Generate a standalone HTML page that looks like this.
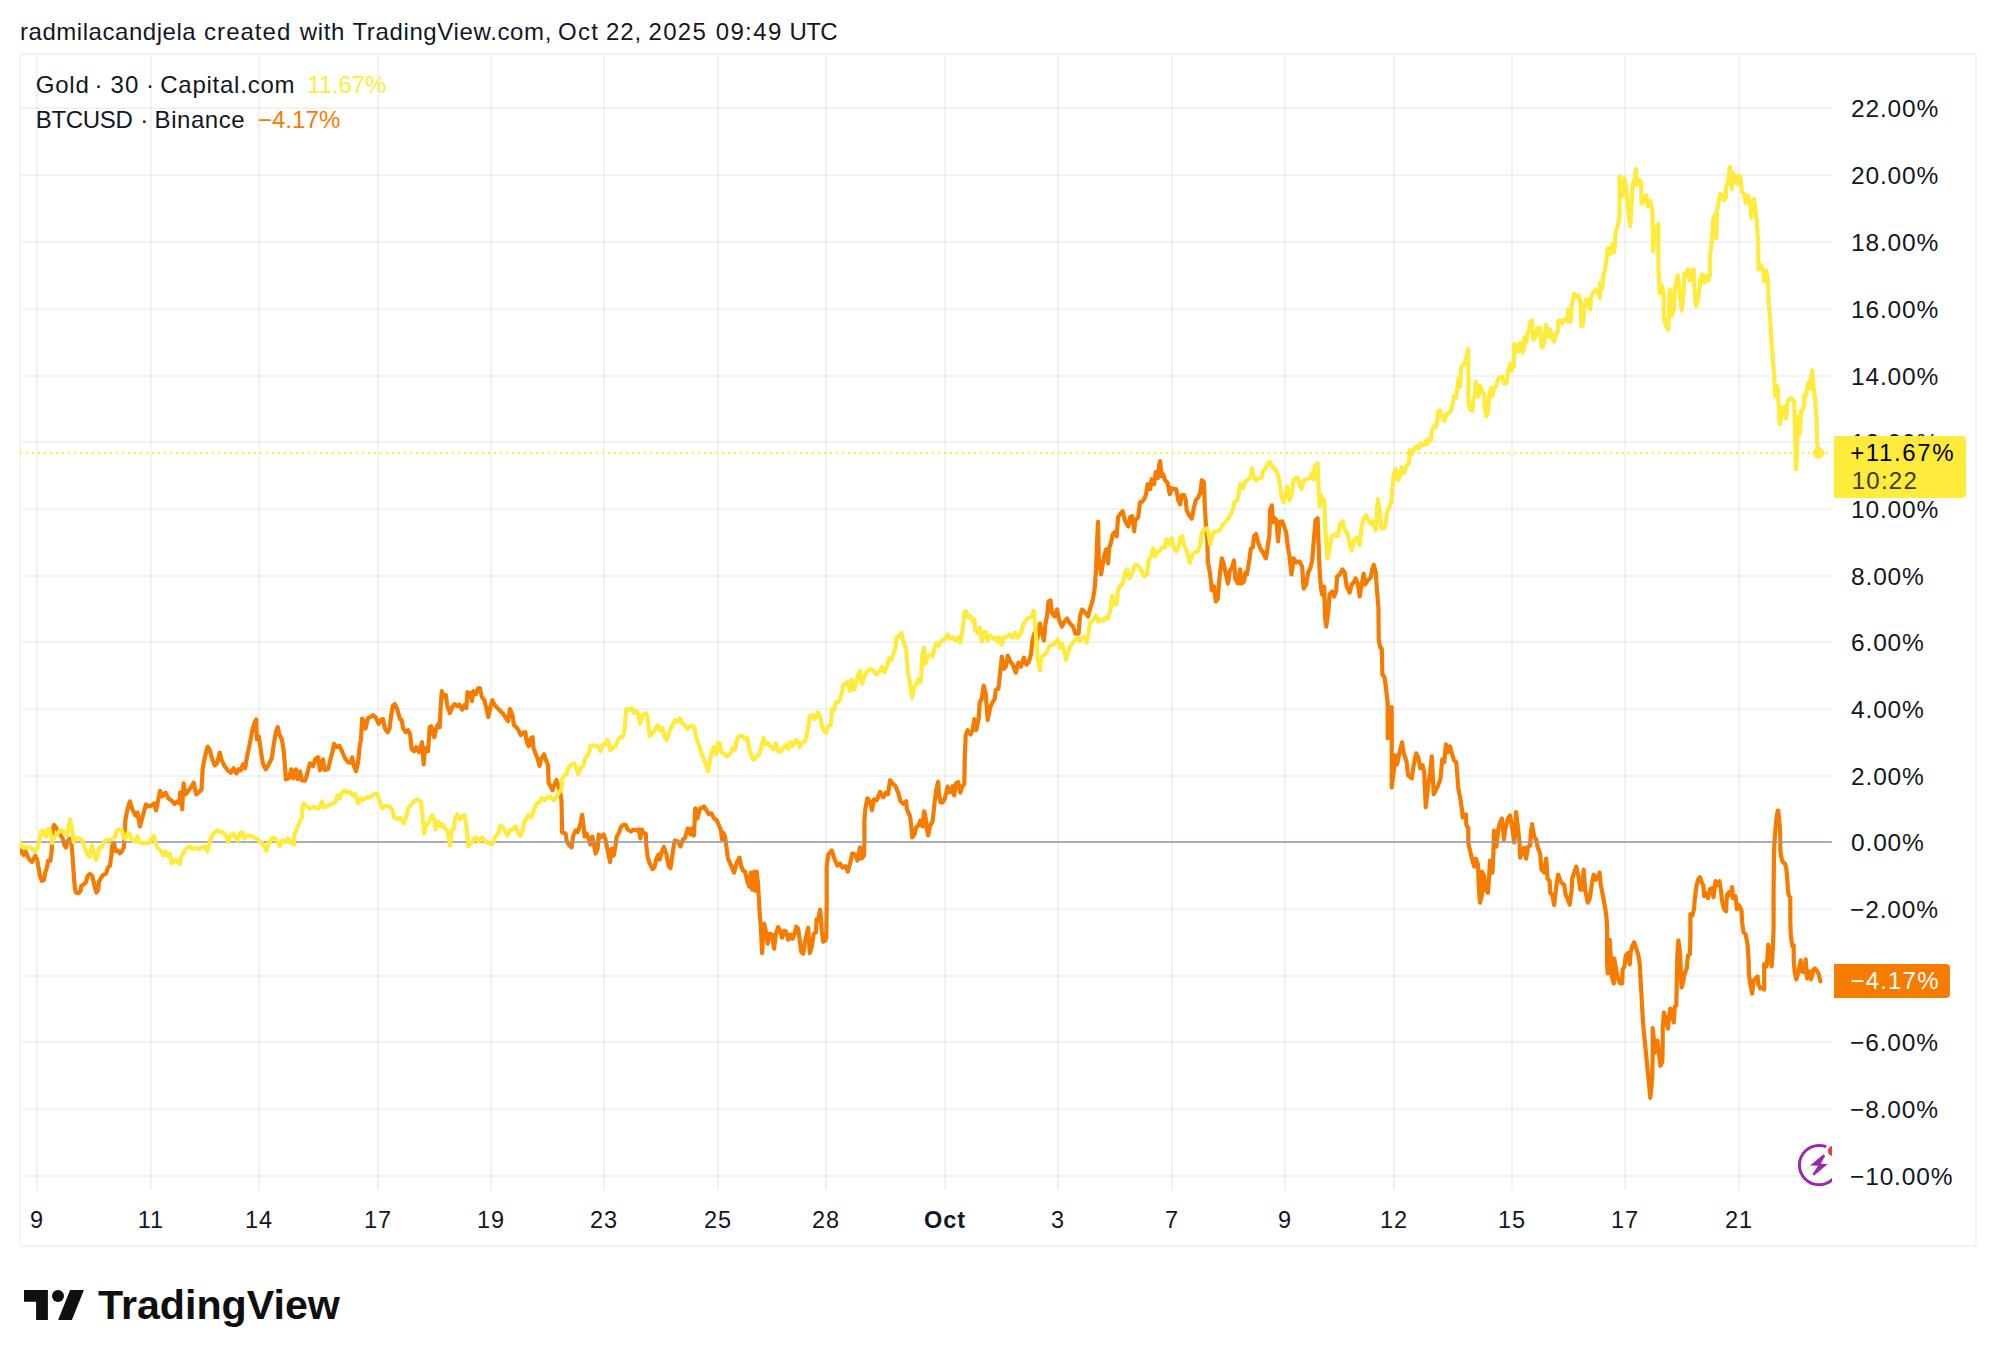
<!DOCTYPE html>
<html><head><meta charset="utf-8">
<style>
html,body{margin:0;padding:0;background:#fff;}
body{width:1996px;height:1366px;position:relative;overflow:hidden;font-family:"Liberation Sans",sans-serif;color:#131722;}
.hdr{position:absolute;left:0;top:17.8px;font-size:24px;line-height:28px;white-space:nowrap;color:#131722;letter-spacing:0.81px;}
.frame{position:absolute;left:19px;top:53px;width:1958px;height:1194px;border:2px solid #f4f4f4;box-sizing:border-box;}
svg.chart{position:absolute;left:0;top:0;}
.leg{position:absolute;left:0;font-size:24px;line-height:28px;white-space:nowrap;}
.yl{position:absolute;font-size:24.5px;line-height:28px;white-space:nowrap;letter-spacing:0.85px;}
.xl{position:absolute;top:1205.6px;width:100px;text-align:center;font-size:23.5px;line-height:28px;letter-spacing:1px;}
.xl.b{font-weight:bold;}
.badge{position:absolute;box-sizing:border-box;border-radius:0 4px 4px 0;}
.logo{position:absolute;left:98px;top:1282.3px;font-size:41.2px;line-height:46px;font-weight:bold;color:#0f0f0f;white-space:nowrap;transform-origin:0 0;}
</style></head><body>
<div class="hdr"><span style="position:absolute;left:20.00px;top:0;letter-spacing:0.54px">radmilacandjela</span><span style="position:absolute;left:204.10px;top:0;letter-spacing:1.02px">created</span><span style="position:absolute;left:299.80px;top:0;letter-spacing:0.59px">with</span><span style="position:absolute;left:352.40px;top:0;letter-spacing:0.64px">TradingView.com,</span><span style="position:absolute;left:557.90px;top:0;letter-spacing:1.32px">Oct</span><span style="position:absolute;left:605.90px;top:0;letter-spacing:0.95px">22,</span><span style="position:absolute;left:648.40px;top:0;letter-spacing:1.39px">2025</span><span style="position:absolute;left:715.70px;top:0;letter-spacing:1.37px">09:49</span><span style="position:absolute;left:789.40px;top:0;letter-spacing:-0.55px">UTC</span></div>
<div class="frame"></div>
<svg class="chart" width="1996" height="1366" viewBox="0 0 1996 1366">
<g fill="rgba(42,46,57,0.06)" stroke="none" shape-rendering="crispEdges"><rect x="36" y="55" width="2" height="1135" /><rect x="150" y="55" width="2" height="1135" /><rect x="258" y="55" width="2" height="1135" /><rect x="377" y="55" width="2" height="1135" /><rect x="490" y="55" width="2" height="1135" /><rect x="603" y="55" width="2" height="1135" /><rect x="717" y="55" width="2" height="1135" /><rect x="825" y="55" width="2" height="1135" /><rect x="944" y="55" width="2" height="1135" /><rect x="1057" y="55" width="2" height="1135" /><rect x="1171" y="55" width="2" height="1135" /><rect x="1284" y="55" width="2" height="1135" /><rect x="1393" y="55" width="2" height="1135" /><rect x="1511" y="55" width="2" height="1135" /><rect x="1624" y="55" width="2" height="1135" /><rect x="1738" y="55" width="2" height="1135" /><rect x="21" y="107" width="1811" height="2" /><rect x="21" y="174" width="1811" height="2" /><rect x="21" y="241" width="1811" height="2" /><rect x="21" y="308" width="1811" height="2" /><rect x="21" y="375" width="1811" height="2" /><rect x="21" y="441" width="1811" height="2" /><rect x="21" y="508" width="1811" height="2" /><rect x="21" y="575" width="1811" height="2" /><rect x="21" y="641" width="1811" height="2" /><rect x="21" y="708" width="1811" height="2" /><rect x="21" y="775" width="1811" height="2" /><rect x="21" y="908" width="1811" height="2" /><rect x="21" y="975" width="1811" height="2" /><rect x="21" y="1041" width="1811" height="2" /><rect x="21" y="1108" width="1811" height="2" /><rect x="21" y="1175" width="1811" height="2" /></g>
<line x1="20" y1="453" x2="1832" y2="453" stroke="#ffeb3b" stroke-width="2" stroke-dasharray="2,4"/>
<clipPath id="cp"><rect x="20" y="55" width="1812" height="1135"/></clipPath>
<g clip-path="url(#cp)">
<path d="M20.2,847.6 L22.1,853.4 L23.5,854.9 L25.7,851.2 L27.6,856.4 L29.8,860.0 L32.0,861.9 L33.8,858.6 L35.3,855.6 L37.1,859.3 L38.6,868.1 L40.0,876.1 L41.8,880.9 L44.0,879.8 L45.1,873.2 L47.3,865.9 L48.1,860.8 L50.3,860.8 L51.4,854.2 L52.1,843.2 L52.8,829.3 L53.9,824.9 L55.8,827.1 L57.6,830.0 L60.5,835.1 L62.7,838.8 L64.5,845.4 L66.0,847.6 L67.5,841.0 L70.0,838.8 L71.5,843.9 L72.6,857.1 L73.7,873.2 L74.8,887.8 L75.9,892.6 L78.8,893.0 L80.6,890.8 L81.4,885.7 L83.9,884.2 L86.1,882.0 L87.6,876.1 L89.8,873.9 L92.0,875.4 L93.5,881.3 L94.9,887.8 L96.4,892.6 L98.2,890.0 L98.9,882.0 L101.1,877.6 L103.3,874.7 L105.9,873.9 L108.1,867.3 L109.9,865.9 L111.4,855.6 L112.1,845.4 L114.0,843.2 L115.4,851.2 L117.6,850.5 L119.8,853.4 L122.0,851.2 L123.8,847.6 L124.6,836.6 L125.3,820.5 L127.1,811.0 L129.0,803.7 L130.0,801.5 L130.4,803.4 L132.8,810.4 L135.4,815.4 L137.4,812.4 L140.0,826.5 L142.4,817.4 L146.0,804.4 L148.4,806.4 L151.5,805.4 L154.1,803.4 L156.1,810.4 L158.5,798.4 L160.1,790.8 L162.1,796.4 L165.5,792.8 L168.5,798.4 L171.5,800.4 L174.5,804.0 L177.5,801.4 L179.5,803.4 L180.1,792.4 L181.5,792.8 L182.1,809.4 L183.6,783.3 L185.6,794.4 L188.6,790.4 L191.6,786.3 L193.6,782.7 L196.2,794.4 L199.6,791.4 L201.6,789.4 L202.6,769.3 L204.6,758.3 L207.6,746.6 L209.6,749.2 L211.6,757.3 L214.6,765.3 L217.1,763.3 L219.7,752.6 L221.7,760.3 L224.7,766.3 L227.7,770.3 L230.7,772.7 L233.7,768.3 L236.3,773.3 L238.7,769.3 L240.7,770.3 L243.1,764.3 L245.1,768.3 L247.1,756.3 L249.7,744.2 L252.4,730.2 L254.4,723.2 L256.2,719.5 L256.8,739.2 L258.8,736.2 L260.8,750.2 L262.8,763.3 L265.8,769.3 L268.8,764.3 L271.8,758.3 L273.8,744.2 L276.4,730.2 L277.8,727.2 L279.2,734.2 L281.8,739.2 L283.9,752.2 L284.9,766.3 L285.9,779.3 L288.9,778.3 L291.3,769.3 L293.3,778.3 L295.9,769.3 L297.9,779.3 L299.9,771.3 L301.9,780.3 L304.9,780.7 L306.9,775.3 L309.9,763.3 L312.9,766.3 L315.3,759.3 L318.0,757.3 L320.0,770.3 L323.0,759.3 L324.6,769.9 L328.0,769.3 L330.0,761.3 L332.6,751.2 L334.0,743.8 L336.6,747.2 L339.4,745.8 L342.0,751.2 L345.0,758.3 L348.0,762.3 L350.7,762.7 L352.1,757.3 L354.1,766.3 L356.1,771.3 L358.1,762.3 L359.5,748.2 L361.1,738.2 L362.1,718.5 L364.1,721.2 L365.5,728.6 L368.1,718.1 L371.1,716.5 L373.1,715.1 L376.1,718.1 L378.7,723.8 L381.1,719.7 L383.1,719.1 L384.8,728.2 L387.6,732.2 L389.6,728.2 L391.2,715.1 L392.8,706.1 L394.8,704.1 L397.2,709.1 L400.0,719.1 L401.7,720.2 L403.1,728.2 L405.7,732.2 L408.1,730.2 L410.1,734.2 L411.7,749.2 L414.1,751.2 L416.1,747.2 L419.1,752.2 L421.1,745.2 L422.1,742.2 L423.7,764.3 L425.1,748.2 L428.1,751.2 L429.7,727.2 L431.2,726.2 L432.6,730.2 L434.2,737.2 L436.2,728.2 L438.2,724.2 L439.8,727.2 L440.6,708.1 L441.8,691.1 L443.8,697.1 L445.8,695.1 L447.2,705.1 L449.8,713.1 L452.2,707.1 L454.6,704.1 L457.2,706.1 L459.2,704.5 L462.2,709.7 L464.3,705.1 L466.3,708.1 L467.5,692.1 L469.9,693.1 L471.9,701.1 L473.3,691.1 L475.9,694.1 L477.9,688.5 L479.9,688.1 L481.9,697.1 L484.3,700.1 L486.3,708.1 L488.3,717.1 L490.3,708.1 L492.3,700.1 L494.7,705.1 L497.4,708.1 L500.4,711.1 L503.4,714.1 L506.0,718.1 L508.0,721.2 L510.0,709.1 L512.4,715.1 L514.0,725.2 L516.4,727.2 L518.4,730.2 L520.8,735.2 L523.4,732.6 L525.4,732.2 L526.8,742.2 L528.8,746.2 L530.9,738.2 L532.5,737.2 L533.5,748.2 L535.5,753.2 L537.5,758.3 L539.5,765.9 L541.5,758.3 L544.1,754.3 L546.1,760.3 L548.1,765.3 L548.5,782.3 L550.5,786.3 L552.5,790.4 L554.5,784.3 L556.5,779.9 L558.5,786.3 L560.5,794.4 L561.5,800.4 L562.1,832.5 L565.6,833.5 L566.6,840.5 L568.6,844.5 L571.6,847.5 L573.0,836.5 L575.6,830.5 L577.6,832.1 L579.0,828.5 L580.6,822.5 L582.2,814.8 L583.6,826.5 L584.6,836.5 L586.6,833.5 L588.6,838.5 L590.2,844.5 L592.2,836.5 L593.6,842.5 L595.6,853.6 L597.7,848.5 L598.7,834.5 L600.7,837.5 L603.7,834.5 L605.7,840.5 L607.7,850.5 L610.1,862.2 L611.7,848.5 L613.7,855.6 L615.7,844.5 L616.7,836.5 L619.1,832.5 L620.7,827.5 L623.1,824.9 L625.7,824.9 L627.7,829.5 L630.8,831.5 L633.8,829.5 L636.8,830.5 L638.8,829.5 L640.4,838.5 L641.8,829.5 L643.2,832.9 L645.8,833.5 L646.4,846.5 L647.8,857.6 L649.8,863.6 L652.4,869.0 L654.4,867.6 L656.4,858.6 L658.4,854.6 L659.8,859.6 L661.8,851.5 L663.9,846.9 L666.5,854.6 L668.5,865.6 L670.5,868.2 L672.5,854.6 L673.9,844.5 L674.9,840.5 L677.9,841.5 L680.5,846.5 L682.9,839.5 L684.9,838.1 L687.9,828.5 L690.5,834.5 L691.9,828.5 L693.9,835.5 L695.3,808.4 L697.4,818.4 L700.0,808.4 L702.0,808.0 L704.0,806.4 L706.6,810.4 L709.0,814.4 L711.4,813.4 L714.0,818.4 L716.6,820.1 L719.0,825.5 L721.0,830.5 L722.0,839.5 L723.4,832.9 L725.0,836.5 L726.6,848.5 L728.0,858.6 L731.1,865.6 L734.1,872.6 L736.7,862.6 L739.5,857.6 L741.1,865.6 L743.1,870.6 L745.1,871.6 L747.1,880.6 L749.1,886.6 L750.7,872.6 L752.3,889.7 L754.1,871.6 L755.1,890.7 L756.7,871.6 L758.1,884.6 L758.5,892.6 L759.7,912.6 L761.1,932.7 L762.1,953.2 L763.1,936.7 L764.1,923.7 L765.7,930.7 L767.7,943.7 L769.7,933.7 L772.1,934.7 L774.1,948.7 L775.7,934.7 L778.1,927.1 L780.1,930.7 L782.1,937.7 L784.1,930.7 L786.1,931.7 L788.1,939.7 L790.6,934.7 L792.6,938.7 L794.6,933.7 L796.2,926.7 L798.2,928.7 L799.8,940.7 L801.2,951.8 L803.2,953.8 L805.2,940.7 L808.2,927.7 L809.8,953.2 L811.8,946.7 L813.8,933.7 L815.8,932.7 L816.6,919.1 L817.8,920.7 L820.2,909.6 L821.8,930.7 L823.2,941.7 L825.3,940.7 L826.3,936.7 L826.7,900.6 L826.7,866.5 L828.3,854.5 L831.9,850.5 L834.3,858.5 L837.3,865.5 L839.9,863.5 L842.3,867.5 L845.3,866.1 L847.9,871.5 L850.3,862.5 L852.3,853.5 L855.3,854.5 L857.4,860.5 L860.0,847.4 L861.4,858.5 L864.0,855.5 L864.4,840.4 L864.4,820.4 L865.4,808.3 L867.4,798.3 L870.0,801.3 L872.0,810.3 L874.0,799.3 L876.8,800.3 L880.0,791.9 L883.4,797.3 L886.0,792.7 L888.0,794.3 L890.1,780.2 L892.5,783.2 L895.5,786.3 L898.1,792.3 L900.5,801.3 L903.5,803.9 L906.1,801.3 L906.9,809.3 L910.1,816.3 L911.5,828.4 L912.1,837.4 L914.5,834.4 L916.1,827.4 L918.5,825.4 L920.5,820.4 L922.5,826.4 L924.2,811.3 L925.6,817.4 L926.6,828.4 L928.2,835.4 L930.2,825.4 L932.6,821.4 L934.6,802.3 L936.2,790.3 L938.2,781.8 L939.0,794.3 L940.6,802.3 L942.6,802.3 L945.0,798.3 L947.6,786.7 L950.2,792.3 L952.6,786.3 L954.2,795.3 L956.2,783.2 L958.3,782.2 L960.3,792.7 L962.3,786.3 L964.3,784.3 L964.7,760.2 L965.7,735.1 L967.7,730.1 L970.7,734.5 L972.7,730.1 L974.3,719.0 L976.3,730.1 L978.7,718.0 L979.7,702.8 L981.7,698.8 L983.7,685.7 L985.7,693.8 L987.7,720.0 L990.4,706.8 L992.8,701.8 L994.8,698.8 L995.8,689.7 L998.4,688.7 L1000.4,670.7 L1001.8,656.6 L1003.8,668.7 L1005.8,666.7 L1007.8,655.6 L1010.4,661.7 L1012.8,664.7 L1015.8,672.7 L1018.4,662.7 L1020.8,666.7 L1023.9,657.7 L1026.5,664.7 L1028.9,661.7 L1030.9,654.6 L1032.5,640.6 L1034.5,632.6 L1036.9,640.6 L1038.5,632.6 L1039.9,623.6 L1041.9,632.6 L1043.9,640.6 L1045.3,624.6 L1047.3,614.5 L1048.5,601.5 L1050.5,600.5 L1051.9,612.5 L1054.5,616.5 L1057.0,609.5 L1059.0,619.5 L1062.0,626.6 L1064.6,621.5 L1067.0,618.5 L1070.0,623.6 L1073.0,626.6 L1075.4,633.6 L1078.6,633.6 L1080.0,616.5 L1082.0,609.5 L1085.0,612.5 L1088.0,616.5 L1090.7,606.5 L1092.7,600.5 L1094.7,588.4 L1096.1,568.4 L1097.1,540.3 L1098.1,521.8 L1098.7,558.4 L1101.1,574.4 L1102.7,564.4 L1104.7,554.3 L1106.1,549.3 L1108.1,563.4 L1109.1,548.3 L1111.1,542.3 L1112.7,534.3 L1114.7,532.3 L1116.7,536.3 L1118.1,517.2 L1120.7,513.2 L1122.7,511.2 L1124.8,520.2 L1128.2,526.3 L1130.2,517.2 L1132.2,516.2 L1134.2,531.3 L1135.2,520.2 L1138.2,517.2 L1140.0,502.2 L1141.7,502.2 L1144.1,499.2 L1146.1,494.2 L1147.7,484.2 L1150.1,489.2 L1151.7,479.2 L1154.1,484.2 L1155.7,472.2 L1157.7,478.2 L1159.1,465.1 L1160.1,461.1 L1161.7,476.2 L1163.1,474.2 L1165.1,480.2 L1167.7,483.2 L1169.7,494.2 L1171.8,488.2 L1174.2,489.2 L1176.2,489.2 L1178.2,500.2 L1180.2,504.3 L1181.8,495.2 L1184.2,495.2 L1185.8,500.2 L1186.6,510.3 L1189.2,515.3 L1191.8,518.7 L1193.8,508.3 L1195.8,500.2 L1198.2,497.2 L1200.2,493.2 L1201.8,480.2 L1203.9,482.2 L1204.7,504.3 L1205.9,524.3 L1207.3,540.4 L1207.9,562.4 L1209.9,572.5 L1211.9,590.5 L1213.9,586.5 L1215.9,601.5 L1217.9,598.5 L1218.7,586.5 L1220.3,570.5 L1221.9,558.4 L1223.9,564.4 L1225.9,574.5 L1227.9,583.5 L1229.9,570.5 L1232.3,567.4 L1233.9,560.4 L1235.3,578.5 L1238.0,583.5 L1240.0,569.4 L1241.4,583.5 L1244.0,581.5 L1245.4,572.5 L1246.8,574.5 L1249.4,560.4 L1250.8,548.4 L1252.8,547.4 L1254.0,536.3 L1256.0,533.9 L1258.0,542.4 L1260.4,548.4 L1262.8,552.4 L1264.8,556.4 L1266.0,558.4 L1268.0,544.4 L1269.4,536.3 L1270.1,510.3 L1271.9,505.3 L1272.9,522.3 L1274.9,518.3 L1276.5,520.3 L1278.1,541.4 L1279.5,522.3 L1282.1,521.3 L1284.1,526.3 L1286.1,532.3 L1288.1,548.4 L1289.5,556.4 L1291.5,574.5 L1293.5,558.4 L1296.5,562.4 L1299.5,561.4 L1302.1,566.4 L1303.6,588.5 L1306.2,584.5 L1308.2,572.5 L1310.2,568.4 L1312.2,560.4 L1313.6,542.4 L1315.6,520.3 L1317.6,518.3 L1318.6,544.4 L1319.6,570.5 L1321.0,588.5 L1322.2,594.5 L1324.2,586.5 L1325.0,616.6 L1326.2,626.6 L1328.2,612.6 L1329.6,594.5 L1332.2,591.5 L1334.2,596.5 L1336.2,590.5 L1337.1,576.5 L1339.7,574.5 L1342.3,569.4 L1344.7,572.5 L1346.7,586.5 L1349.7,592.5 L1351.7,584.5 L1353.7,582.5 L1355.7,578.5 L1357.7,583.5 L1359.7,596.5 L1361.7,584.5 L1363.7,573.5 L1365.1,584.5 L1367.7,580.5 L1370.8,577.5 L1372.4,568.4 L1373.8,564.8 L1375.8,572.5 L1376.8,588.5 L1378.4,606.6 L1378.8,640.7 L1380.4,647.7 L1381.8,648.7 L1382.4,674.8 L1384.4,676.8 L1385.8,686.8 L1387.7,703.1 L1387.7,738.2 L1389.7,720.2 L1391.7,707.1 L1391.7,764.3 L1391.7,787.4 L1393.7,772.3 L1395.1,755.3 L1397.1,764.3 L1399.1,754.3 L1402.1,742.2 L1403.7,753.3 L1406.5,761.3 L1408.1,775.3 L1411.8,778.4 L1413.8,764.3 L1416.2,753.3 L1418.6,758.3 L1420.2,768.3 L1422.6,765.3 L1424.2,772.3 L1425.8,807.4 L1427.8,788.4 L1430.2,772.3 L1431.8,756.3 L1433.8,794.4 L1435.8,790.4 L1438.2,785.4 L1440.6,778.4 L1442.2,759.3 L1444.3,762.3 L1445.9,744.3 L1447.9,752.3 L1449.9,746.3 L1451.9,753.3 L1453.9,760.3 L1456.3,762.3 L1458.3,788.4 L1460.3,798.4 L1462.3,812.5 L1462.7,817.5 L1465.9,814.5 L1466.3,824.5 L1468.3,828.5 L1468.3,842.5 L1470.7,853.6 L1472.7,861.6 L1474.3,866.6 L1475.9,858.6 L1478.0,864.6 L1478.8,886.7 L1480.0,902.7 L1482.0,894.7 L1482.0,871.6 L1484.0,875.6 L1486.0,890.7 L1488.0,892.7 L1489.4,872.6 L1490.0,860.6 L1492.4,872.6 L1493.4,853.6 L1494.0,830.5 L1496.4,846.6 L1498.4,828.5 L1500.4,821.5 L1502.0,818.5 L1504.0,839.5 L1505.4,828.5 L1508.0,818.5 L1510.1,815.5 L1512.1,826.5 L1514.1,842.5 L1515.5,826.5 L1516.1,812.1 L1518.1,829.5 L1519.5,842.5 L1520.1,857.6 L1522.1,852.6 L1524.1,847.6 L1526.1,858.6 L1528.1,846.6 L1530.1,845.6 L1530.9,832.5 L1532.1,824.1 L1534.1,836.5 L1536.1,839.5 L1537.5,846.6 L1540.1,853.6 L1541.5,869.6 L1544.2,872.6 L1546.2,858.6 L1547.6,878.7 L1549.6,880.7 L1550.2,892.7 L1552.2,894.7 L1554.2,905.1 L1556.2,886.7 L1558.2,874.6 L1560.2,880.7 L1562.2,883.7 L1564.2,884.7 L1565.6,894.7 L1567.6,898.7 L1569.6,904.7 L1571.6,890.7 L1572.2,878.7 L1574.2,872.6 L1576.2,866.6 L1578.3,875.6 L1580.3,889.7 L1582.3,889.7 L1583.7,869.6 L1585.1,888.7 L1587.7,902.7 L1589.7,898.7 L1591.7,884.7 L1593.7,874.6 L1595.7,879.7 L1597.7,877.7 L1599.7,872.6 L1600.7,884.7 L1602.7,894.7 L1604.3,903.7 L1605.7,910.8 L1607.1,924.3 L1607.1,944.3 L1607.1,962.4 L1607.7,973.4 L1609.1,958.4 L1609.7,939.9 L1611.2,962.4 L1611.8,976.4 L1613.8,983.4 L1614.2,958.4 L1616.2,970.4 L1618.6,980.4 L1620.2,983.4 L1622.2,983.4 L1622.6,969.4 L1624.6,966.4 L1625.8,955.3 L1627.8,953.3 L1629.8,964.4 L1630.6,952.3 L1632.2,946.3 L1634.2,942.3 L1636.2,948.3 L1638.2,954.3 L1639.8,964.4 L1640.6,980.4 L1641.8,1000.5 L1642.6,1016.5 L1643.9,1032.6 L1645.3,1046.6 L1646.7,1060.7 L1647.9,1072.7 L1649.3,1086.7 L1650.3,1097.8 L1651.3,1088.7 L1652.3,1074.7 L1652.7,1052.6 L1652.7,1028.2 L1653.3,1033.6 L1654.7,1052.6 L1655.9,1046.6 L1657.3,1040.6 L1658.7,1050.6 L1660.3,1065.7 L1662.3,1061.7 L1662.7,1044.6 L1662.7,1028.6 L1663.9,1012.5 L1665.9,1020.5 L1667.9,1028.6 L1669.3,1014.5 L1670.3,1008.5 L1672.3,1015.5 L1673.9,1022.5 L1674.7,1006.5 L1676.3,1005.5 L1676.8,980.4 L1677.4,954.3 L1678.4,940.3 L1680.0,952.3 L1680.8,970.4 L1681.6,987.4 L1683.4,980.4 L1684.8,973.4 L1686.8,968.4 L1688.0,955.3 L1690.0,954.3 L1690.4,934.3 L1690.4,914.2 L1692.4,915.2 L1694.0,909.2 L1694.8,899.2 L1696.4,886.1 L1698.4,879.1 L1700.0,877.1 L1702.0,883.1 L1703.4,885.1 L1704.0,896.2 L1706.0,893.2 L1708.0,898.2 L1710.1,889.1 L1712.1,888.1 L1713.5,897.2 L1715.5,881.1 L1717.5,885.1 L1719.5,881.1 L1720.9,890.2 L1722.1,901.2 L1724.1,909.2 L1726.1,911.2 L1726.9,895.2 L1728.9,892.2 L1730.5,895.2 L1732.1,887.1 L1732.9,898.2 L1735.5,896.2 L1736.9,909.2 L1738.9,905.2 L1741.5,910.2 L1742.1,922.2 L1743.6,932.3 L1745.6,934.3 L1747.6,944.3 L1748.6,960.4 L1749.0,974.4 L1750.6,986.4 L1752.2,993.5 L1753.6,980.4 L1755.6,978.4 L1757.6,976.4 L1758.2,984.4 L1760.2,988.4 L1762.2,987.4 L1764.2,989.4 L1764.2,972.4 L1764.2,964.0 L1766.6,966.4 L1767.6,956.3 L1768.2,944.7 L1770.2,954.3 L1771.6,966.4 L1772.6,952.3 L1773.6,928.3 L1773.6,890.2 L1774.0,852.2 L1774.8,837.6 L1776.2,820.7 L1777.7,810.5 L1778.2,810.5 L1779.9,826.6 L1780.3,841.2 L1780.3,850.0 L1781.0,855.9 L1782.5,861.7 L1784.7,863.2 L1786.1,866.9 L1786.9,874.2 L1787.6,883.7 L1788.0,890.0 L1788.7,895.2 L1790.3,897.2 L1790.3,920.2 L1790.7,934.3 L1792.3,946.3 L1793.7,945.3 L1793.7,960.4 L1794.7,972.4 L1796.3,979.4 L1798.3,972.4 L1799.7,965.4 L1800.7,960.4 L1801.7,971.4 L1804.3,972.4 L1805.7,959.4 L1807.1,978.4 L1809.7,971.4 L1811.2,979.4 L1813.2,970.4 L1814.8,968.4 L1817.2,971.4 L1818.8,974.4 L1820.4,981.4" fill="none" stroke="#f57c00" stroke-width="4.2" stroke-linejoin="round" stroke-linecap="round"/>
<line x1="20" y1="842.00" x2="1832" y2="842.00" stroke="#9598a8" stroke-opacity="0.8" stroke-width="2" shape-rendering="crispEdges"/>
<path d="M20.2,842.1 L22.1,846.9 L24.6,847.6 L27.6,846.9 L30.5,848.0 L33.4,849.8 L35.3,851.2 L37.1,848.3 L39.3,841.0 L40.7,832.2 L42.2,830.4 L44.4,834.4 L46.2,836.6 L47.3,830.0 L49.5,828.9 L51.0,835.1 L52.1,843.2 L53.9,838.1 L56.9,834.4 L59.0,831.5 L61.2,830.4 L64.2,831.5 L67.1,835.1 L68.6,827.8 L70.0,819.4 L71.9,827.8 L73.7,841.7 L75.9,838.1 L78.8,838.4 L82.1,839.9 L83.9,845.4 L86.5,852.7 L89.4,857.1 L90.9,851.2 L92.0,845.4 L94.2,854.2 L96.0,860.0 L97.8,854.9 L98.9,848.3 L102.2,846.9 L104.4,841.7 L106.6,839.9 L111.0,839.5 L114.7,837.3 L116.9,830.7 L119.8,829.3 L122.0,830.7 L123.5,836.6 L125.3,838.8 L127.9,832.9 L130.0,834.4 L130.4,837.5 L132.8,840.5 L135.4,841.5 L137.4,836.1 L140.0,842.5 L142.8,843.5 L145.4,842.5 L148.4,843.5 L151.5,838.5 L154.1,836.1 L155.5,843.5 L158.1,848.5 L160.5,850.5 L163.5,855.6 L165.5,851.5 L167.5,855.6 L170.1,853.6 L171.5,863.6 L174.5,860.6 L176.5,859.6 L179.5,864.2 L181.5,856.6 L183.6,852.5 L186.6,848.5 L189.6,846.5 L192.6,848.9 L195.6,847.5 L198.6,849.5 L201.6,847.5 L204.6,846.5 L207.6,851.5 L209.6,842.5 L211.6,836.1 L214.6,832.5 L217.7,830.1 L220.7,832.1 L223.7,832.9 L226.3,836.5 L228.3,842.1 L230.3,835.5 L233.1,833.5 L235.7,837.5 L237.7,840.5 L239.7,833.5 L242.3,832.1 L244.3,838.5 L247.1,835.5 L249.7,835.5 L252.8,836.5 L255.8,838.5 L258.8,840.5 L261.8,842.9 L264.4,846.5 L266.4,850.5 L268.8,842.9 L271.8,838.1 L274.8,838.1 L277.2,841.5 L279.8,846.1 L282.4,840.5 L284.9,842.1 L287.9,838.5 L289.9,842.5 L291.9,841.5 L293.9,844.5 L294.5,834.5 L296.9,828.5 L299.9,821.5 L301.9,817.4 L302.5,806.4 L303.9,803.4 L306.5,806.4 L309.9,808.8 L312.9,806.8 L315.9,808.0 L319.0,808.4 L322.0,801.4 L324.0,807.4 L327.0,806.4 L330.0,804.4 L333.0,803.4 L335.4,802.4 L337.0,795.4 L340.0,798.4 L342.0,792.4 L344.6,790.4 L347.0,792.8 L350.1,792.0 L352.7,795.4 L355.1,794.0 L358.1,803.4 L361.1,798.4 L364.1,799.4 L367.1,796.8 L370.1,797.4 L373.1,794.4 L377.1,794.0 L379.1,799.4 L382.1,808.4 L385.2,806.0 L389.2,806.4 L392.2,809.4 L394.2,817.4 L398.2,819.4 L400.0,818.0 L403.7,823.5 L406.1,817.4 L408.1,808.4 L411.1,804.4 L414.1,801.4 L418.1,799.4 L421.1,802.4 L422.5,814.4 L424.1,833.5 L425.7,825.5 L428.1,823.5 L430.2,819.4 L432.2,815.4 L434.2,819.4 L435.8,829.5 L437.8,821.5 L440.2,826.5 L442.2,824.1 L444.2,827.5 L447.2,830.5 L449.2,840.5 L450.0,845.5 L451.8,830.5 L453.8,828.5 L455.2,818.4 L457.2,814.4 L459.8,819.4 L462.2,816.4 L464.3,814.8 L465.9,822.5 L467.3,834.5 L468.3,846.5 L471.3,842.5 L474.3,838.5 L476.3,837.5 L478.7,841.5 L482.3,837.5 L485.3,841.5 L488.3,842.9 L491.3,844.5 L493.9,841.5 L495.3,836.5 L498.0,834.5 L500.0,826.1 L502.4,826.5 L504.8,830.5 L507.4,835.5 L510.0,830.5 L512.4,829.5 L515.4,826.5 L518.0,832.5 L520.4,836.1 L522.8,830.5 L524.0,822.5 L526.4,819.4 L528.4,814.8 L531.5,817.4 L534.1,809.4 L536.5,803.4 L539.5,802.4 L542.1,798.0 L544.9,800.4 L547.5,797.4 L550.5,796.8 L553.5,800.4 L556.5,796.4 L559.5,791.4 L561.5,789.4 L562.1,779.3 L564.2,775.3 L566.6,774.3 L568.6,767.3 L571.6,764.3 L574.2,763.3 L576.6,768.3 L578.2,774.3 L580.6,768.3 L583.6,765.3 L585.0,758.3 L587.6,755.3 L589.6,751.2 L590.2,745.8 L592.6,745.8 L595.6,745.2 L598.7,747.2 L600.3,751.2 L602.3,745.2 L605.1,743.8 L607.7,739.8 L610.3,750.2 L613.1,747.2 L615.7,746.2 L617.7,740.6 L620.3,737.2 L623.1,736.6 L624.7,729.2 L626.3,709.1 L628.7,709.7 L631.8,708.1 L633.8,713.1 L636.8,711.1 L638.8,716.1 L640.0,723.8 L642.4,715.1 L645.8,713.1 L647.8,718.1 L648.8,728.2 L649.8,736.2 L652.4,733.2 L654.8,730.2 L657.8,725.2 L659.8,730.2 L662.4,728.2 L664.5,737.2 L666.5,740.2 L668.9,733.2 L670.9,728.2 L673.3,724.2 L674.9,720.2 L677.3,721.8 L679.9,718.1 L681.9,722.6 L684.9,725.2 L687.3,729.2 L689.9,726.2 L692.9,725.8 L694.5,728.2 L695.9,736.2 L699.0,745.2 L701.0,752.2 L703.4,758.3 L706.0,764.3 L708.0,771.3 L710.0,760.3 L712.0,751.2 L714.0,747.2 L716.0,754.3 L718.0,742.6 L720.0,744.2 L721.4,752.2 L724.0,753.9 L727.0,756.3 L730.1,754.3 L732.7,748.2 L735.1,749.2 L737.1,739.2 L739.5,735.8 L742.7,736.2 L745.1,739.2 L747.5,738.2 L749.1,749.2 L751.1,754.3 L753.5,759.9 L756.1,757.3 L759.1,754.3 L761.1,748.2 L763.6,738.2 L765.6,744.2 L768.2,743.2 L771.2,747.2 L773.2,749.2 L775.6,743.2 L778.2,751.2 L780.0,751.8 L783.1,748.1 L786.1,745.1 L788.1,749.1 L790.2,742.1 L792.6,746.1 L795.8,740.1 L798.2,742.1 L799.8,747.1 L802.2,743.1 L805.2,741.1 L807.2,732.1 L809.8,716.0 L812.2,715.0 L814.6,719.1 L817.8,712.4 L820.2,717.1 L822.2,727.1 L825.9,733.1 L828.3,726.1 L830.7,725.1 L832.3,708.8 L834.3,709.8 L835.9,702.4 L838.3,701.8 L840.3,698.8 L841.9,693.2 L843.3,684.7 L845.3,684.3 L847.3,681.7 L849.9,690.8 L851.9,679.7 L854.3,689.7 L856.8,680.7 L858.4,673.7 L860.0,670.7 L862.0,683.7 L864.4,676.7 L866.8,671.7 L870.0,668.7 L872.8,670.3 L876.4,674.3 L879.4,671.7 L882.0,666.7 L884.4,672.3 L886.8,666.7 L889.4,657.7 L891.5,659.7 L893.5,653.6 L895.5,648.6 L896.1,637.6 L898.5,637.0 L901.5,633.0 L903.5,642.6 L906.1,648.6 L906.9,660.7 L908.5,675.7 L910.5,686.7 L912.1,697.8 L913.5,688.7 L916.1,683.7 L918.5,679.7 L920.5,682.7 L921.5,674.7 L922.1,656.6 L923.8,647.6 L925.6,663.7 L927.6,656.6 L930.2,654.6 L932.6,656.6 L934.2,648.6 L936.2,643.6 L938.6,645.6 L941.6,640.6 L944.6,639.6 L947.6,634.6 L950.2,638.6 L953.0,637.6 L955.6,640.6 L958.3,637.6 L960.3,642.6 L962.3,630.6 L963.7,621.5 L964.3,612.5 L966.3,611.5 L968.7,617.5 L970.7,616.5 L972.7,621.5 L974.3,619.5 L975.1,629.6 L977.7,632.6 L979.7,627.6 L981.7,641.6 L983.7,632.6 L985.7,631.6 L987.7,640.6 L990.4,635.6 L993.2,638.6 L995.8,637.6 L997.8,641.6 L999.8,637.6 L1001.8,644.6 L1003.8,637.6 L1006.8,636.6 L1009.8,634.6 L1012.4,637.6 L1015.2,632.6 L1017.8,637.6 L1020.8,633.6 L1023.2,624.6 L1025.9,620.5 L1028.9,617.5 L1031.9,616.5 L1033.9,610.5 L1034.9,624.6 L1036.5,642.6 L1037.9,660.7 L1039.9,670.7 L1041.3,656.6 L1043.9,655.6 L1046.9,651.6 L1049.9,645.6 L1052.9,644.6 L1055.3,642.6 L1058.0,639.6 L1060.0,647.6 L1062.0,643.6 L1064.0,650.6 L1066.0,659.7 L1068.0,652.6 L1070.0,646.6 L1073.0,642.6 L1075.0,639.6 L1078.0,638.6 L1080.0,641.6 L1082.6,637.6 L1085.0,636.6 L1086.6,642.6 L1088.6,632.6 L1090.1,622.5 L1093.1,620.5 L1096.1,615.5 L1098.1,621.5 L1101.1,619.5 L1103.5,620.5 L1106.1,617.5 L1108.1,618.5 L1110.7,608.5 L1112.1,595.5 L1114.1,604.5 L1116.7,603.5 L1118.1,589.4 L1120.7,585.4 L1122.7,583.4 L1124.8,573.4 L1126.8,569.4 L1129.6,578.4 L1132.2,573.4 L1134.8,565.4 L1137.6,564.8 L1140.0,568.4 L1142.1,571.5 L1144.1,576.5 L1147.1,574.5 L1148.5,560.4 L1151.1,556.4 L1153.1,548.4 L1155.1,556.4 L1157.7,551.4 L1160.1,550.4 L1162.1,547.4 L1165.1,547.4 L1166.5,539.4 L1169.1,544.4 L1171.8,538.4 L1173.8,547.4 L1176.2,551.4 L1179.2,545.4 L1180.2,537.4 L1182.2,536.3 L1184.2,545.4 L1187.2,552.4 L1189.8,562.8 L1192.6,554.4 L1195.2,552.4 L1197.8,551.4 L1200.2,545.4 L1201.8,532.3 L1204.3,529.3 L1207.3,528.3 L1209.3,537.4 L1210.3,544.4 L1212.3,535.3 L1214.3,531.3 L1217.3,531.3 L1220.3,529.9 L1222.3,525.3 L1225.3,522.3 L1228.3,518.3 L1230.7,514.3 L1233.3,508.3 L1234.3,502.2 L1237.4,500.2 L1239.4,489.2 L1240.4,483.8 L1242.8,488.2 L1245.4,481.2 L1248.4,479.2 L1250.8,477.2 L1252.0,468.1 L1254.0,478.2 L1256.4,480.2 L1258.8,478.2 L1262.0,477.2 L1262.8,471.2 L1265.4,469.1 L1268.0,463.1 L1270.1,462.1 L1272.1,467.1 L1274.5,468.1 L1277.5,473.2 L1279.5,482.2 L1281.5,496.2 L1283.5,502.2 L1285.5,496.2 L1287.5,486.2 L1289.5,500.2 L1291.5,495.2 L1293.5,480.2 L1295.5,478.2 L1298.1,478.2 L1299.5,484.2 L1301.5,489.2 L1304.2,480.2 L1306.6,479.2 L1309.6,478.2 L1312.2,473.2 L1313.6,479.2 L1315.0,466.1 L1317.6,463.1 L1318.6,488.2 L1319.6,506.3 L1320.6,494.2 L1322.6,500.2 L1324.2,500.2 L1325.0,524.3 L1326.2,544.4 L1327.6,558.4 L1329.6,548.4 L1331.6,536.3 L1334.6,534.3 L1337.7,536.3 L1340.3,523.3 L1342.7,521.3 L1344.7,529.9 L1347.7,534.3 L1349.7,544.4 L1351.7,550.4 L1353.7,540.4 L1356.7,537.4 L1359.7,545.4 L1361.7,526.3 L1363.7,518.3 L1366.3,515.3 L1368.7,520.3 L1370.8,524.3 L1373.2,521.3 L1375.8,530.3 L1377.8,499.2 L1379.8,512.3 L1381.2,528.3 L1383.8,528.3 L1385.8,524.3 L1386.8,512.3 L1388.8,508.3 L1391.2,502.2 L1392.4,488.2 L1393.8,474.2 L1395.8,469.1 L1397.8,480.2 L1399.8,476.2 L1401.8,467.1 L1403.9,473.2 L1405.9,467.1 L1408.9,463.1 L1409.9,450.1 L1411.9,454.1 L1413.9,450.1 L1416.5,446.1 L1418.9,448.1 L1420.9,443.1 L1423.3,445.1 L1425.9,441.1 L1426.9,444.1 L1428.9,439.1 L1430.9,440.1 L1431.9,430.0 L1434.9,425.0 L1436.5,427.0 L1438.1,411.8 L1440.1,410.4 L1442.1,416.8 L1444.5,420.8 L1446.5,413.8 L1449.1,412.8 L1451.1,410.8 L1453.1,400.8 L1454.1,395.7 L1456.1,397.7 L1457.7,384.7 L1458.5,378.7 L1460.1,386.7 L1461.1,367.7 L1463.1,364.6 L1465.1,364.2 L1466.5,355.6 L1468.1,349.0 L1468.5,380.7 L1468.5,403.8 L1470.2,409.8 L1472.6,410.8 L1473.2,399.7 L1474.6,396.7 L1475.8,381.7 L1478.2,396.7 L1480.2,385.7 L1482.2,392.7 L1484.2,393.7 L1484.6,406.8 L1486.2,416.4 L1488.2,411.8 L1489.2,395.7 L1491.2,387.7 L1492.6,395.7 L1494.2,387.7 L1495.8,386.7 L1498.2,378.7 L1500.2,377.7 L1502.2,376.7 L1504.3,383.7 L1506.7,382.7 L1508.3,370.7 L1510.3,363.6 L1511.9,370.7 L1513.9,365.6 L1514.3,343.6 L1516.3,345.6 L1518.3,351.6 L1519.9,342.6 L1522.3,352.6 L1524.3,348.6 L1524.3,337.6 L1526.3,342.6 L1527.3,334.6 L1529.3,329.5 L1529.9,322.5 L1531.9,320.5 L1533.3,339.6 L1535.3,337.6 L1537.4,328.5 L1540.0,327.5 L1541.4,346.6 L1542.8,347.6 L1544.8,337.6 L1546.0,324.5 L1548.4,336.6 L1550.0,329.5 L1552.4,339.6 L1554.0,341.6 L1556.4,332.5 L1558.0,331.5 L1558.4,320.5 L1560.4,320.5 L1562.0,323.5 L1564.0,320.5 L1566.0,318.5 L1568.0,321.5 L1568.0,309.5 L1570.5,321.5 L1572.1,303.5 L1574.1,294.0 L1576.5,297.4 L1578.5,295.4 L1580.5,300.5 L1581.5,326.5 L1582.9,324.5 L1584.5,306.5 L1586.1,299.4 L1588.5,300.5 L1590.1,309.5 L1591.5,295.4 L1594.1,291.4 L1596.1,289.4 L1598.5,294.4 L1600.1,298.0 L1600.1,282.8 L1602.1,288.4 L1603.6,275.4 L1605.6,266.3 L1607.0,256.3 L1607.6,248.3 L1610.2,254.3 L1612.2,244.3 L1614.2,252.3 L1615.6,232.2 L1617.6,226.2 L1619.6,215.2 L1619.6,176.5 L1622.2,196.1 L1624.2,178.1 L1626.2,187.1 L1628.6,215.2 L1630.2,226.2 L1631.6,202.2 L1632.6,185.1 L1634.6,179.1 L1636.0,169.1 L1636.6,185.1 L1639.1,180.1 L1641.1,182.1 L1641.7,203.8 L1643.7,201.2 L1646.3,195.1 L1647.7,206.2 L1650.3,201.2 L1652.3,210.2 L1653.1,251.3 L1654.7,230.2 L1656.7,227.2 L1658.3,224.2 L1658.3,264.3 L1659.7,293.4 L1661.7,285.4 L1663.7,293.4 L1663.7,316.5 L1665.7,325.5 L1668.3,329.5 L1669.7,289.4 L1671.8,315.5 L1673.8,308.5 L1674.8,287.4 L1677.8,275.4 L1679.8,294.4 L1681.8,310.5 L1683.8,291.4 L1684.4,273.4 L1685.8,276.4 L1687.8,269.4 L1689.8,280.4 L1691.8,270.4 L1693.8,270.0 L1694.4,288.4 L1696.0,306.5 L1697.8,300.5 L1699.8,286.4 L1700.4,278.4 L1702.4,274.4 L1704.5,282.4 L1706.5,276.0 L1708.5,280.4 L1709.9,275.4 L1709.9,256.3 L1711.3,246.3 L1712.5,234.3 L1713.3,218.2 L1715.3,214.2 L1716.5,238.3 L1716.9,210.2 L1718.9,201.2 L1719.9,194.1 L1721.9,195.1 L1723.9,200.2 L1725.9,197.1 L1725.9,187.1 L1727.9,183.1 L1729.9,167.1 L1731.9,189.1 L1732.9,173.1 L1734.9,182.1 L1735.9,176.1 L1738.0,184.1 L1740.0,175.7 L1742.0,192.1 L1744.0,193.7 L1746.0,203.2 L1748.0,195.7 L1750.0,203.2 L1751.4,217.8 L1754.0,199.1 L1756.0,214.2 L1758.0,238.3 L1758.6,269.4 L1761.0,265.3 L1763.4,270.4 L1764.0,281.4 L1766.0,270.4 L1768.0,281.4 L1768.6,304.5 L1770.1,318.5 L1771.1,334.6 L1772.7,356.6 L1774.1,374.7 L1775.1,396.2 L1776.3,389.2 L1777.7,386.3 L1778.1,396.2 L1778.7,406.8 L1779.2,416.1 L1779.8,424.3 L1781.2,417.3 L1781.9,408.5 L1783.9,406.8 L1785.1,410.3 L1785.9,418.5 L1786.9,410.3 L1787.4,402.1 L1789.2,399.2 L1791.0,398.3 L1792.7,399.7 L1794.1,400.3 L1794.5,410.3 L1794.8,424.3 L1795.3,445.4 L1796.0,469.4 L1796.8,457.1 L1797.4,436.0 L1797.6,420.8 L1798.6,416.1 L1799.5,420.8 L1800.0,433.7 L1800.7,422.0 L1800.9,411.4 L1802.7,409.1 L1804.2,405.6 L1804.2,395.1 L1806.2,395.6 L1807.0,389.2 L1807.9,384.5 L1809.7,381.0 L1810.5,389.2 L1811.4,375.1 L1812.4,370.2 L1812.9,379.8 L1813.8,389.2 L1815.0,398.6 L1815.9,410.3 L1816.7,424.3 L1817.1,443.1 L1818.7,453.0" fill="none" stroke="#ffeb3b" stroke-width="4.2" stroke-linejoin="round" stroke-linecap="round"/>
<circle cx="1818.7" cy="453" r="5.8" fill="#ffeb3b"/>
<g transform="translate(1819,1165.1)">
<circle r="19.6" fill="#fff" stroke="#9c27b0" stroke-width="3"/>
<path d="M4.6,-10.8 L6.1,-9.2 L1.7,-1.3 L8.8,-1.1 L-5.1,10.7 L-6.6,9.2 L-0.9,0.64 L-9,0.42 Z" fill="#9c27b0"/>
<circle cx="14" cy="-14.1" r="8.2" fill="#fff"/><circle cx="14" cy="-14.1" r="5.1" fill="#f23645"/>
</g>
</g>
</svg>
<div class="leg" style="top:71.3px"><span style="position:absolute;left:35.70px;top:0;letter-spacing:0.82px">Gold</span><span style="position:absolute;left:94.50px;top:0;letter-spacing:0.00px">·</span><span style="position:absolute;left:110.50px;top:0;letter-spacing:1.15px">30</span><span style="position:absolute;left:145.90px;top:0;letter-spacing:0.00px">·</span><span style="position:absolute;left:160.20px;top:0;letter-spacing:0.76px">Capital.com</span><span style="position:absolute;left:307.20px;top:0;letter-spacing:-0.10px;color:#ffeb3b">11.67%</span></div>
<div class="leg" style="top:105.5px"><span style="position:absolute;left:35.70px;top:0;letter-spacing:-0.29px">BTCUSD</span><span style="position:absolute;left:140.30px;top:0;letter-spacing:0.00px">·</span><span style="position:absolute;left:154.60px;top:0;letter-spacing:0.54px">Binance</span><span style="position:absolute;left:257.80px;top:0;letter-spacing:0.09px;color:#f57c00">−4.17%</span></div>
<div class="yl" style="top:94.8px;left:1851px">22.00%</div><div class="yl" style="top:161.8px;left:1851px">20.00%</div><div class="yl" style="top:228.8px;left:1851px">18.00%</div><div class="yl" style="top:295.8px;left:1851px">16.00%</div><div class="yl" style="top:362.8px;left:1851px">14.00%</div><div class="yl" style="top:428.8px;left:1851px">12.00%</div><div class="yl" style="top:495.8px;left:1851px">10.00%</div><div class="yl" style="top:562.8px;left:1851px">8.00%</div><div class="yl" style="top:628.8px;left:1851px">6.00%</div><div class="yl" style="top:695.8px;left:1851px">4.00%</div><div class="yl" style="top:762.8px;left:1851px">2.00%</div><div class="yl" style="top:828.8px;left:1851px">0.00%</div><div class="yl" style="top:895.8px;left:1850px">−2.00%</div><div class="yl" style="top:962.8px;left:1850px">−4.00%</div><div class="yl" style="top:1028.8px;left:1850px">−6.00%</div><div class="yl" style="top:1095.8px;left:1850px">−8.00%</div><div class="yl" style="top:1162.8px;left:1850px">−10.00%</div>
<div class="xl" style="left:-13.0px">9</div><div class="xl" style="left:101.0px">11</div><div class="xl" style="left:209.0px">14</div><div class="xl" style="left:328.0px">17</div><div class="xl" style="left:441.0px">19</div><div class="xl" style="left:554.0px">23</div><div class="xl" style="left:668.0px">25</div><div class="xl" style="left:776.0px">28</div><div class="xl b" style="left:895.0px">Oct</div><div class="xl" style="left:1008.0px">3</div><div class="xl" style="left:1122.0px">7</div><div class="xl" style="left:1235.0px">9</div><div class="xl" style="left:1344.0px">12</div><div class="xl" style="left:1462.0px">15</div><div class="xl" style="left:1575.0px">17</div><div class="xl" style="left:1689.0px">21</div>
<div class="badge" style="left:1834px;top:436px;width:132px;height:62px;background:#ffeb3b;color:#131722;">
<div style="position:absolute;left:16.2px;top:2.5px;font-size:24px;line-height:28px;letter-spacing:1.62px;white-space:nowrap;color:#000">+11.67%</div>
<div style="position:absolute;left:17.7px;top:31.2px;font-size:24px;line-height:28px;letter-spacing:1.26px;white-space:nowrap;color:#3d3a16">10:22</div>
</div>
<div class="badge" style="left:1834px;top:964px;width:116px;height:34px;background:#f57c00;color:#fff;">
<div style="position:absolute;left:16.5px;top:2.9px;font-size:24px;line-height:28px;letter-spacing:1.18px;white-space:nowrap">−4.17%</div>
</div>
<svg style="position:absolute;left:24px;top:1290px" width="62" height="30" viewBox="0 0 62 30">
<path d="M0,0 H23.9 V29.9 H12.1 V11.8 H0 Z" fill="#0f0f0f"/>
<circle cx="34" cy="6" r="6" fill="#0f0f0f"/>
<path d="M46.1,0 H59.9 L47.9,29.9 H34.1 Z" fill="#0f0f0f"/>
</svg>
<div class="logo">TradingView</div>
</body></html>
